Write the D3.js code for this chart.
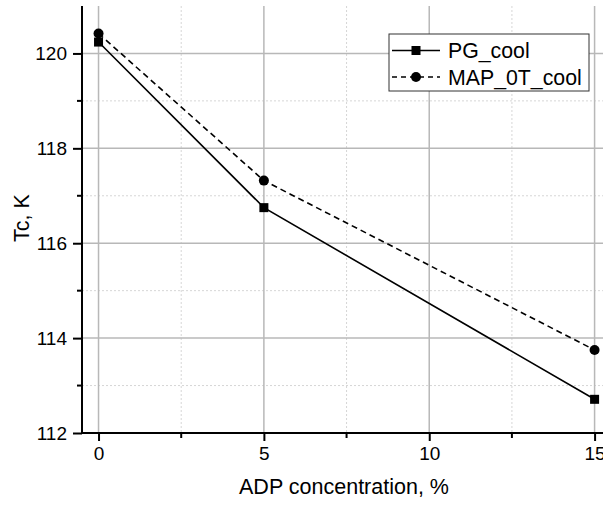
<!DOCTYPE html>
<html>
<head>
<meta charset="utf-8">
<script src="https://cdn.jsdelivr.net/npm/d3@7"></script>
<style>
	body { margin:0; background:#fff; }
	svg text { font-family:"Liberation Sans", Arial, sans-serif; fill:#000; }
</style>
</head>
<body>
<svg id="chart-1" width="603" height="505"></svg>
<script>
// data
const concentrations = [0, 5, 15];
const pgCool = [120.24, 116.75, 112.71];
const mapCool = [120.42, 117.32, 113.75];
const seriesNames = ['PG_cool', 'MAP_0T_cool'];
const xMajorTicks = [0, 5, 10, 15];
const xMinorTicks = [2.5, 7.5, 12.5];
const yMajorTicks = [112, 114, 116, 118, 120];
const yMinorTicks = [113, 115, 117, 119];

const svg = d3.select('svg#chart-1');

// plot area
const margin = {top:6, left:82, bottom:433};
const x = d3.scaleLinear().domain([-0.5, 15.5]).range([margin.left, margin.left + 16*33.07]);
const y = d3.scaleLinear().domain([112, 121]).range([margin.bottom, margin.top]);
const right = 603;

const g = svg.append('g');

// minor grid (dotted)
g.selectAll('line.gx-minor').data(xMinorTicks)
	.enter().append('line')
		.attr('x1', d => x(d)).attr('x2', d => x(d))
		.attr('y1', margin.top).attr('y2', margin.bottom)
		.attr('stroke', '#d6d6d6').attr('stroke-width', 1).attr('stroke-dasharray', '2,2');
g.selectAll('line.gy-minor').data(yMinorTicks)
	.enter().append('line')
		.attr('x1', margin.left).attr('x2', right)
		.attr('y1', d => y(d)).attr('y2', d => y(d))
		.attr('stroke', '#d6d6d6').attr('stroke-width', 1).attr('stroke-dasharray', '2,2');

// major grid
g.selectAll('line.gx').data(xMajorTicks)
	.enter().append('line')
		.attr('x1', d => x(d)).attr('x2', d => x(d))
		.attr('y1', margin.top).attr('y2', margin.bottom)
		.attr('stroke', '#b8b8b8').attr('stroke-width', 1.5);
g.selectAll('line.gy').data(yMajorTicks.filter(d => d !== 112))
	.enter().append('line')
		.attr('x1', margin.left).attr('x2', right)
		.attr('y1', d => y(d)).attr('y2', d => y(d))
		.attr('stroke', '#b8b8b8').attr('stroke-width', 1.5);

// axes
const xAxis = d3.axisBottom(x).tickValues(xMajorTicks).tickSize(8).tickPadding(6);
const yAxis = d3.axisLeft(y).tickValues(yMajorTicks).tickSize(9).tickPadding(6);

const gx = svg.append('g').attr('transform', `translate(0,${margin.bottom})`).call(xAxis);
const gy = svg.append('g').attr('transform', `translate(${margin.left},0)`).call(yAxis);

[gx, gy].forEach(a => {
	a.select('.domain').remove();
	a.selectAll('.tick line').attr('stroke', '#000').attr('stroke-width', 2);
	a.selectAll('.tick text').attr('font-size', '19px');
});

// minor ticks
svg.append('g').selectAll('line').data(xMinorTicks)
	.enter().append('line')
		.attr('x1', d => x(d)).attr('x2', d => x(d))
		.attr('y1', margin.bottom).attr('y2', margin.bottom + 5)
		.attr('stroke', '#000').attr('stroke-width', 2);
svg.append('g').selectAll('line').data(yMinorTicks)
	.enter().append('line')
		.attr('x1', margin.left - 5).attr('x2', margin.left)
		.attr('y1', d => y(d)).attr('y2', d => y(d))
		.attr('stroke', '#000').attr('stroke-width', 2);

// axis lines
svg.append('line')
	.attr('x1', margin.left).attr('x2', margin.left)
	.attr('y1', margin.top).attr('y2', margin.bottom + 1)
	.attr('stroke', '#000').attr('stroke-width', 2);
svg.append('line')
	.attr('x1', margin.left - 1).attr('x2', right)
	.attr('y1', margin.bottom).attr('y2', margin.bottom)
	.attr('stroke', '#000').attr('stroke-width', 2);

// axis titles
svg.append('text')
	.attr('x', 344).attr('y', 494)
	.attr('text-anchor', 'middle')
	.attr('font-size', '21.5px')
	.text('ADP concentration, %');
svg.append('text')
	.attr('transform', 'translate(29,218) rotate(-90)')
	.attr('text-anchor', 'middle')
	.attr('font-size', '21.5px')
	.text('Tc, K');

// series
const line = d3.line().x(d => x(d[0])).y(d => y(d[1]));
const pgPts = concentrations.map((c, i) => [c, pgCool[i]]);
const mapPts = concentrations.map((c, i) => [c, mapCool[i]]);

const plot = svg.append('g');
plot.append('path').datum(pgPts)
	.attr('d', line).attr('fill', 'none').attr('stroke', '#000').attr('stroke-width', 1.6);
plot.append('path').datum(mapPts)
	.attr('d', line).attr('fill', 'none').attr('stroke', '#000').attr('stroke-width', 1.6)
	.attr('stroke-dasharray', '6,4');

plot.selectAll('rect.pg').data(pgPts)
	.enter().append('rect')
		.attr('x', d => x(d[0]) - 4.5).attr('y', d => y(d[1]) - 4.5)
		.attr('width', 9).attr('height', 9).attr('fill', '#000');
plot.selectAll('circle.map').data(mapPts)
	.enter().append('circle')
		.attr('cx', d => x(d[0])).attr('cy', d => y(d[1]))
		.attr('r', 5).attr('fill', '#000');

// legend
const lg = svg.append('g').attr('transform', 'translate(389,34)');
lg.append('rect')
	.attr('x', 0).attr('y', 0).attr('width', 200).attr('height', 57)
	.attr('fill', '#fff').attr('stroke', '#333').attr('stroke-width', 1);
seriesNames.forEach((name, i) => {
	const ly = 16.5 + i * 26.5;
	lg.append('line')
		.attr('x1', 3).attr('x2', 51).attr('y1', ly).attr('y2', ly)
		.attr('stroke', '#000').attr('stroke-width', 1.6)
		.attr('stroke-dasharray', i === 0 ? null : '5,4');
	if (i === 0) {
		lg.append('rect').attr('x', 22.5).attr('y', ly - 4.5).attr('width', 9).attr('height', 9).attr('fill', '#000');
	} else {
		lg.append('circle').attr('cx', 27).attr('cy', ly).attr('r', 5).attr('fill', '#000');
	}
	lg.append('text')
		.attr('x', 59).attr('y', ly + 7.5)
		.attr('font-size', '21.3px')
		.text(name);
});
</script>
</body>
</html>
